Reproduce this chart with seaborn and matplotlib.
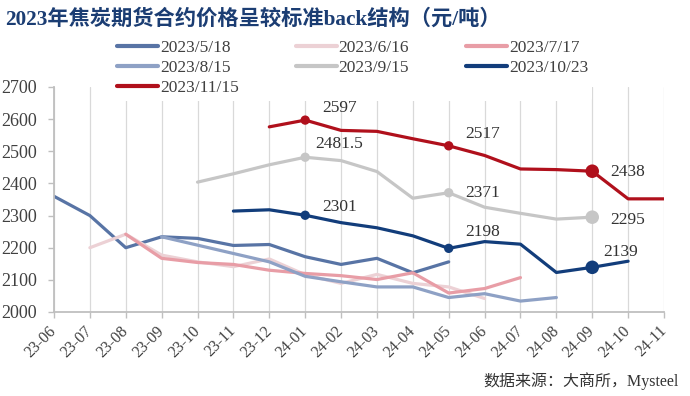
import numpy as np
import pandas as pd
import matplotlib
matplotlib.use("Agg")
import matplotlib.pyplot as plt
from matplotlib.lines import Line2D
import seaborn as sns

nan = np.nan

# ---------------- data ----------------
months = ['23-06', '23-07', '23-08', '23-09', '23-10', '23-11', '23-12',
          '24-01', '24-02', '24-03', '24-04', '24-05', '24-06', '24-07',
          '24-08', '24-09', '24-10', '24-11']

series_names = ['2023/5/18', '2023/6/16', '2023/7/17', '2023/8/15',
                '2023/9/15', '2023/10/23', '2023/11/15']

s_0518 = [2360, 2300, 2200, 2234, 2229, 2207, 2210, 2172, 2148, 2167, 2122, 2156,
          nan, nan, nan, nan, nan, nan]
s_0616 = [nan, 2200, 2242, 2177, 2156, 2141, 2165, 2116, 2089, 2117, 2089, 2078,
          2042, nan, nan, nan, nan, nan]
s_0717 = [nan, nan, 2242, 2167, 2154, 2148, 2130, 2120, 2113, 2101, 2122, 2059,
          2073, 2107, nan, nan, nan, nan]
s_0815 = [nan, nan, nan, 2234, 2208, 2182, 2156, 2111, 2094, 2078, 2078, 2045,
          2057, 2034, 2045, nan, nan, nan]
s_0915 = [nan, nan, nan, nan, 2404, 2430, 2458, 2481.5, 2471, 2437, 2354, 2371,
          2326, 2307, 2289, 2295, nan, nan]
s_1023 = [nan, nan, nan, nan, nan, 2314, 2318, 2301, 2278, 2262, 2237, 2198,
          2219, 2211, 2123, 2139, 2158, nan]
s_1115 = [nan, nan, nan, nan, nan, nan, 2576, 2597, 2565, 2562, 2539, 2517,
          2487, 2445, 2443, 2438, 2352, 2352]

series_values = [s_0518, s_0616, s_0717, s_0815, s_0915, s_1023, s_1115]

# labelled points: (series, month)
labelled_series = ['2023/11/15', '2023/9/15', '2023/10/23']
labelled_months = ['24-01', '24-05', '24-09']

y_ticks = [2000, 2100, 2200, 2300, 2400, 2500, 2600, 2700]

title = '2023年焦炭期货合约价格呈较标准back结构（元/吨）'
source = '数据来源：大商所，Mysteel'

# ---------------- style ----------------
colors = ['#5874A5', '#ECD1D5', '#E89DA6', '#8EA1C5', '#C6C6C6', '#123D7B', '#B0101C']
palette = dict(zip(series_names, colors))

# label offsets in pixels (dx, dy) per (series, month)
label_offsets = {
    ('2023/11/15', '24-01'): (17, 12), ('2023/11/15', '24-05'): (17, 12),
    ('2023/11/15', '24-09'): (18, -1),
    ('2023/9/15', '24-01'): (10, 13), ('2023/9/15', '24-05'): (17, 0),
    ('2023/9/15', '24-09'): (18, -3),
    ('2023/10/23', '24-01'): (17, 8), ('2023/10/23', '24-05'): (17, 16),
    ('2023/10/23', '24-09'): (11, 15),
}
marker_size = {'24-01': 45, '24-05': 45, '24-09': 95}

sns.set_theme(style="white")
plt.rcParams['font.family'] = ['Liberation Serif', 'Noto Sans CJK SC', 'DejaVu Sans']

W, H = 690, 396
fig = plt.figure(figsize=(W / 100, H / 100), dpi=100)
ax = fig.add_axes([54 / W, (H - 312) / H, (664 - 54) / W, (312 - 87) / H])

rows = []
for name, vals in zip(series_names, series_values):
    for i, v in enumerate(vals):
        if not np.isnan(v):
            rows.append({'idx': i, 'month': months[i], 'value': v, 'series': name})
df = pd.DataFrame(rows)

sns.lineplot(data=df, x='idx', y='value', hue='series', hue_order=series_names,
             palette=palette, linewidth=2.3, ax=ax, legend=False,
             estimator=None, sort=True)

# markers + labels
for name in labelled_series:
    sub = df[(df['series'] == name) & (df['month'].isin(labelled_months))]
    for _, r in sub.iterrows():
        ax.scatter(r['idx'], r['value'], s=marker_size[r['month']],
                   color=palette[name], zorder=5, edgecolors='none')
        dx, dy = label_offsets[(name, r['month'])]
        ax.annotate(f"{r['value']:g}", (r['idx'], r['value']),
                    xytext=(dx, dy), textcoords='offset pixels',
                    ha='left', va='center', fontsize=12.5, color='#333333')

ax.set_xlim(0, len(months) - 1)
ax.set_ylim(y_ticks[0], y_ticks[-1])
ax.set_xticks(range(len(months)))
ax.set_xticklabels(months, rotation=45, ha='right', va='center',
                   rotation_mode='anchor', fontsize=11.5, color='#404040')
ax.set_yticks(y_ticks)
ax.set_yticklabels([str(t) for t in y_ticks], fontsize=13, color='#404040')
ax.set_xlabel('')
ax.set_ylabel('')

ax.grid(axis='x', color='#D9D9D9', linewidth=0.9)
ax.grid(axis='y', visible=False)
for s in ['top', 'right']:
    ax.spines[s].set_visible(False)
for s in ['left', 'bottom']:
    ax.spines[s].set_color('#BFBFBF')
    ax.spines[s].set_linewidth(1.3)
ax.tick_params(axis='both', which='major', direction='out', length=4,
               width=1, color='#BFBFBF', left=True, bottom=True)
ax.tick_params(axis='x', pad=8)
ax.tick_params(axis='y', pad=8)

# legend in row-major display order
order = [0, 3, 6, 1, 4, 2, 5]
handles = [Line2D([0], [0], color=colors[i], lw=3) for i in order]
labels = [series_names[i] for i in order]
leg = fig.legend(handles, labels, ncol=3, loc='upper left',
                 bbox_to_anchor=((117 - 4) / W, 1 - 36 / H),
                 frameon=True, facecolor='white', edgecolor='none', framealpha=1,
                 fontsize=12.5, handlelength=2.35, handletextpad=0.1,
                 columnspacing=3.3, labelspacing=0.22, borderpad=0.25,
                 borderaxespad=0)
for t in leg.get_texts():
    t.set_color('#404040')

fig.text(5 / W, 1 - 19 / H, title, ha='left', va='center', fontsize=15.3,
         fontweight='bold', color='#1B3D73')
fig.text(679 / W, 1 - 381 / H, source, ha='right', va='center', fontsize=11.5,
         color='#333333')

fig.savefig('out.png', dpi=100)
